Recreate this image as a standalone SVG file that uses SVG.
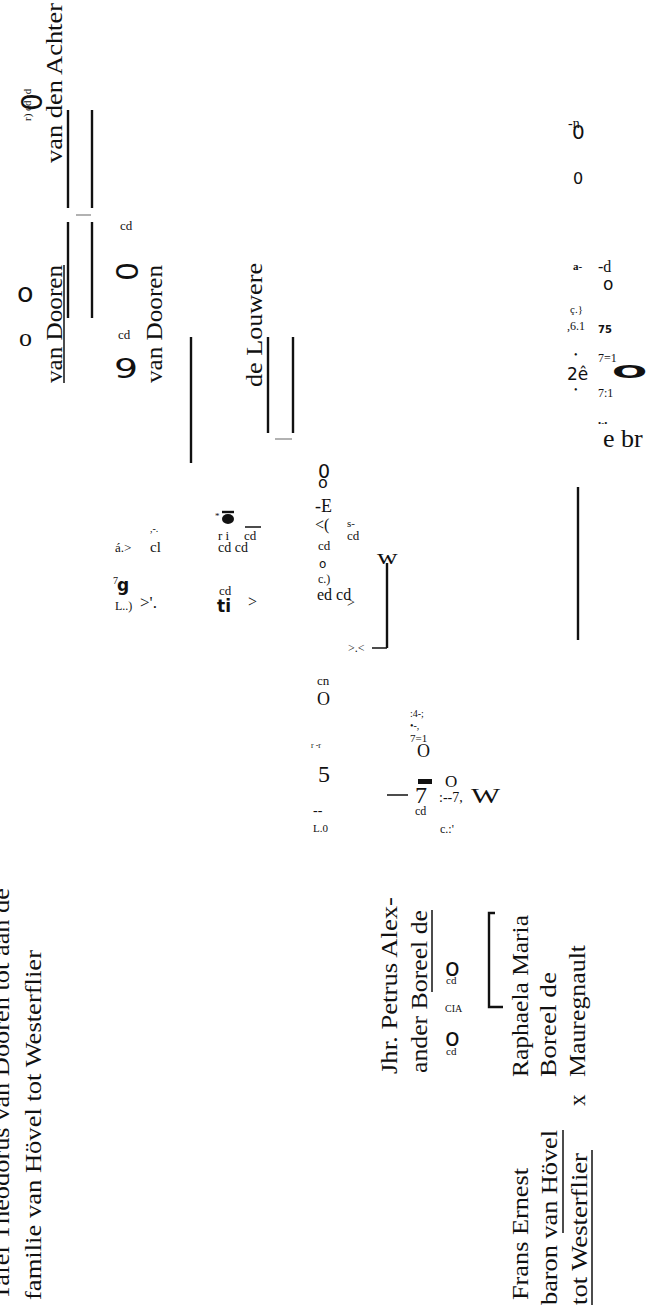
<svg xmlns="http://www.w3.org/2000/svg" width="651" height="1308" viewBox="0 0 651 1308">
<style>
.r{font-family:"Liberation Serif","Times New Roman",serif;font-size:23px;fill:#111}
.s{font-family:"Liberation Serif","Times New Roman",serif;fill:#111}
.d{font-family:"DejaVu Sans",sans-serif;fill:#111}
.db{font-family:"DejaVu Sans",sans-serif;font-weight:bold;fill:#111}
.ln{stroke:#111;stroke-width:2.4;fill:none}
.ul{stroke:#111;stroke-width:1.5;fill:none}
.gr{stroke:#999;stroke-width:1.5;fill:none}
</style>
<rect width="651" height="1308" fill="#fff"/>
<g id="connectors">
<line class="ln" x1="68" y1="110" x2="68" y2="208"/>
<line class="ln" x1="68" y1="222" x2="68" y2="318"/>
<line class="ln" x1="92" y1="110" x2="92" y2="208"/>
<line class="ln" x1="92" y1="222" x2="92" y2="318"/>
<line class="gr" x1="76" y1="215" x2="91" y2="215"/>
<line class="ln" x1="191" y1="337" x2="191" y2="463"/>
<line class="ln" x1="268" y1="337" x2="268" y2="433"/>
<line class="ln" x1="293" y1="337" x2="293" y2="433"/>
<line class="gr" x1="275" y1="439" x2="292" y2="439"/>
<line class="ln" x1="387" y1="563" x2="387" y2="648"/>
<line class="ul" x1="372" y1="648" x2="387" y2="648"/>
<line class="ln" x1="578" y1="487" x2="578" y2="640"/>
<line class="ul" x1="387" y1="795" x2="408" y2="795"/>
<path class="ln" d="M495,913 H489 V1007 H503"/>
</g>
<g id="title">
<text class="r" transform="translate(9,1300) rotate(-90)" textLength="412" lengthAdjust="spacingAndGlyphs">Tafel Theodorus van Dooren tot aan de</text>
<text class="r" transform="translate(41,1300) rotate(-90)" textLength="350" lengthAdjust="spacingAndGlyphs">familie van Hövel tot Westerflier</text>
</g>
<g id="node-achter">
<text class="r" transform="translate(62,163) rotate(-90)" textLength="160" lengthAdjust="spacingAndGlyphs">van den Achter</text>
<text class="s" font-size="11" transform="translate(31,121) rotate(-90)">r) cd ·d</text>
<text class="d" font-size="28" transform="translate(42,111) rotate(-90)">0</text>
</g>
<g id="node-dooren1">
<text class="r" transform="translate(62,383) rotate(-90)" textLength="118" lengthAdjust="spacingAndGlyphs">van Dooren</text>
<line class="ul" x1="64" y1="265" x2="64" y2="383"/>
<text class="d" x="17" y="302" font-size="27">o</text>
<text class="s" x="19" y="346" font-size="26">o</text>
</g>
<g id="node-dooren2">
<text class="s" x="120" y="230" font-size="13">cd</text>
<text class="d" font-size="30" transform="translate(138,281) rotate(-90)">0</text>
<text class="s" x="118" y="339" font-size="13">cd</text>
<text class="d" font-size="27" transform="translate(114,378) scale(1.4,1)">9</text>
<text class="r" transform="translate(162,383) rotate(-90)" textLength="118" lengthAdjust="spacingAndGlyphs">van Dooren</text>
</g>
<g id="node-louwere">
<text class="r" transform="translate(262,387) rotate(-90)" textLength="124" lengthAdjust="spacingAndGlyphs">de Louwere</text>
</g>
<g id="node-mid">
<text class="s" x="115" y="552" font-size="13">á.&gt;</text>
<text class="s" x="150" y="532" font-size="10">,-.</text>
<text class="s" x="150" y="552" font-size="15">cl</text>
<text class="s" x="113" y="584" font-size="10">7</text>
<text class="db" x="117" y="591" font-size="17">g</text>
<text class="s" x="115" y="610" font-size="12">L..)</text>
<text class="s" x="140" y="608" font-size="17">&gt;'.</text>
<text class="s" x="215" y="519" font-size="9">*</text>
<line class="ln" x1="222" y1="512" x2="234" y2="512"/>
<ellipse cx="228" cy="519" rx="6" ry="5" fill="#111"/>
<text class="s" x="218" y="540" font-size="13">r i</text>
<text class="s" x="218" y="552" font-size="14">cd cd</text>
<text class="s" x="244" y="540" font-size="13">cd</text>
<line class="ul" x1="245" y1="527" x2="261" y2="527"/>
<text class="s" x="219" y="595" font-size="13">cd</text>
<text class="db" x="217" y="612" font-size="17">ti</text>
<text class="s" x="248" y="607" font-size="16">&gt;</text>
<text class="d" x="318" y="478" font-size="19">0</text>
<text class="d" x="318" y="488" font-size="16">o</text>
<text class="s" x="315" y="512" font-size="18">-E</text>
<text class="s" x="315" y="530" font-size="16">&lt;(</text>
<text class="s" x="318" y="550" font-size="13">cd</text>
<text class="d" x="319" y="568" font-size="12">o</text>
<text class="s" x="318" y="583" font-size="12">c.)</text>
<text class="s" x="317" y="600" font-size="16">ed cd</text>
<text class="s" x="347" y="607" font-size="14">&gt;</text>
<text class="s" x="347" y="527" font-size="11">s-</text>
<text class="s" x="347" y="540" font-size="13">cd</text>
<text class="s" font-size="22" transform="translate(377,564) scale(1.3,1)">w</text>
<text class="s" x="348" y="652" font-size="12">&gt;.&lt;</text>
</g>
<g id="node-lower">
<text class="s" x="317" y="685" font-size="13">cn</text>
<text class="s" x="317" y="705" font-size="18">O</text>
<text class="s" x="311" y="748" font-size="8">r -r</text>
<text class="s" x="318" y="782" font-size="24">5</text>
<text class="s" x="313" y="815" font-size="14">--</text>
<text class="s" x="313" y="832" font-size="11">L.0</text>
<text class="s" x="410" y="717" font-size="10">:4-;</text>
<text class="s" x="410" y="729" font-size="10">•-,</text>
<text class="s" x="410" y="742" font-size="11">7=1</text>
<text class="s" x="417" y="757" font-size="18">O</text>
<rect x="418" y="779" width="14" height="5" fill="#111"/>
<text class="s" x="415" y="803" font-size="24">7</text>
<text class="s" x="415" y="815" font-size="12">cd</text>
<text class="s" x="445" y="787" font-size="17">O</text>
<text class="s" x="439" y="802" font-size="14">:--7,</text>
<text class="s" font-size="22" transform="translate(471,803) scale(1.4,1)">W</text>
<text class="s" x="440" y="833" font-size="12">c.:'</text>
</g>
<g id="node-right">
<text class="s" x="568" y="128" font-size="14">-n</text>
<text class="d" x="572" y="139" font-size="20">0</text>
<text class="d" x="573" y="184" font-size="16">0</text>
<text class="s" x="573" y="270" font-size="11" font-weight="bold">a-</text>
<text class="s" x="598" y="272" font-size="16">-d</text>
<text class="d" x="603" y="290" font-size="17">o</text>
<text class="s" x="570" y="313" font-size="11">ç.}</text>
<text class="s" x="567" y="330" font-size="12">,6.1</text>
<text class="db" x="598" y="333" font-size="10">75</text>
<text class="s" x="574" y="358" font-size="10">•</text>
<text class="d" x="567" y="380" font-size="17">2ê</text>
<text class="s" x="574" y="393" font-size="10">•</text>
<text class="s" x="598" y="362" font-size="12">7=1</text>
<text class="db" font-size="18" transform="translate(612,378) scale(2.3,1)">O</text>
<text class="s" x="598" y="397" font-size="12">7:1</text>
<text class="s" x="598" y="426" font-size="9">•-•</text>
<text class="s" x="603" y="447" font-size="26">e br</text>
</g>
<g id="node-boreel">
<text class="r" transform="translate(397,1074) rotate(-90)" textLength="177" lengthAdjust="spacingAndGlyphs">Jhr. Petrus Alex-</text>
<text class="r" transform="translate(427,1073) rotate(-90)" textLength="163" lengthAdjust="spacingAndGlyphs">ander Boreel de</text>
<line class="ul" x1="432" y1="910" x2="432" y2="992"/>
<text class="d" x="445" y="976" font-size="24">o</text>
<text class="s" x="446" y="984" font-size="11">cd</text>
<text class="s" x="445" y="1012" font-size="10">CIA</text>
<text class="d" x="445" y="1046" font-size="24">o</text>
<text class="s" x="446" y="1055" font-size="11">cd</text>
</g>
<g id="node-raphaela">
<text class="r" transform="translate(528,1077) rotate(-90)" textLength="162" lengthAdjust="spacingAndGlyphs">Raphaela Maria</text>
<text class="r" transform="translate(556,1077) rotate(-90)" textLength="105" lengthAdjust="spacingAndGlyphs">Boreel de</text>
<text class="r" transform="translate(585,1106) rotate(-90)">x</text>
<text class="r" transform="translate(585,1077) rotate(-90)" textLength="132" lengthAdjust="spacingAndGlyphs">Mauregnault</text>
</g>
<g id="node-frans">
<text class="r" transform="translate(528,1300) rotate(-90)" textLength="132" lengthAdjust="spacingAndGlyphs">Frans Ernest</text>
<text class="r" transform="translate(557,1305) rotate(-90)" textLength="175" lengthAdjust="spacingAndGlyphs">baron van Hövel</text>
<line class="ul" x1="563" y1="1130" x2="563" y2="1233"/>
<text class="r" transform="translate(587,1305) rotate(-90)" textLength="152" lengthAdjust="spacingAndGlyphs">tot Westerflier</text>
<line class="ul" x1="592" y1="1150" x2="592" y2="1305"/>
</g>
</svg>
